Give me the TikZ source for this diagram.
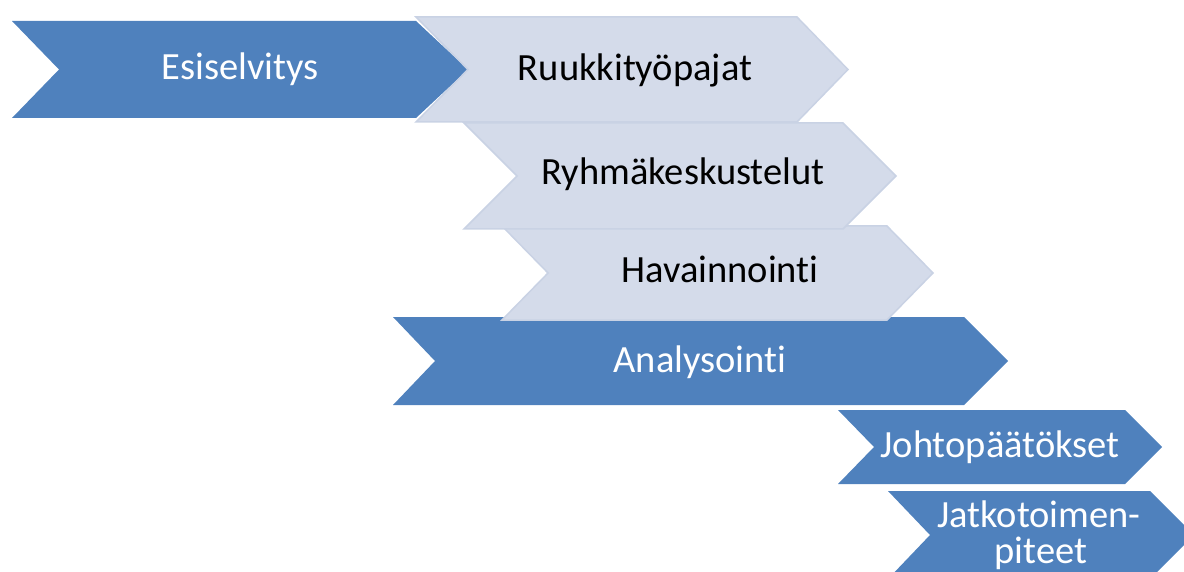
\documentclass[tikz,border=0pt]{standalone}
\usepackage{fontspec}
\setmainfont{Carlito}[Ligatures={NoCommon}]
\definecolor{chblue}{HTML}{4F81BD}
\definecolor{chlight}{HTML}{D4DBEA}
\definecolor{chlightedge}{HTML}{C9D2E4}
\newcommand\chevshape[8]{% style, L, N, S, T, top, bot, mid
  \path[#1] (#2,#6) -- (#4,#6) -- (#5,#8) -- (#4,#7) -- (#2,#7) -- (#3,#8) -- cycle;}
\tikzset{
  bluechev/.style={fill=chblue},
  lightchev/.style={fill=chlight, draw=chlightedge, line width=1.5pt, line join=miter},
  bluetxt/.style={text=white, font=\fontsize{38.5}{38.5}\selectfont, anchor=base, inner sep=0pt},
  darktxt/.style={text=black, font=\fontsize{38.5}{38.5}\selectfont, anchor=base, inner sep=0pt},
}
\begin{document}
\begin{tikzpicture}[x=1pt,y=-1pt]
\useasboundingbox (0,0) rectangle (1184,572);
\clip (0,0) rectangle (1184,572);
% blue chevrons
\chevshape{bluechev}{12}{59}{416}{468}{21}{118}{69.5}
\chevshape{bluechev}{393}{435}{964}{1008}{317}{405}{361}
\chevshape{bluechev}{838}{874}{1125}{1162}{410}{484}{447}
\chevshape{bluechev}{888}{930}{1150}{1194}{491}{579}{535}
% light chevrons
\chevshape{lightchev}{502}{548}{887}{933}{226}{320}{273}
\chevshape{lightchev}{464}{517}{843}{896}{123}{229}{176}
\chevshape{lightchev}{416}{468}{797}{848}{17}{122}{69.5}
% labels
\node[bluetxt] (esi) at (240,80) {Esiselvitys};
\node[darktxt] (ruu) at (635,81) {Ruukkityöpajat};
\node[darktxt] (ryh) at (683,185) {Ryhmäkeskustelut};
\node[darktxt] (hav) at (720,283) {Havainnointi};
\node[bluetxt] (ana) at (700,372) {Analysointi};
\node[bluetxt] (joh) at (1000,457) {Johtopäätökset};
\node[bluetxt] (jat1) at (1039,527) {Jatkotoimen-};
\node[bluetxt] (jat2) at (1041,563) {piteet};
\end{tikzpicture}
\end{document}
